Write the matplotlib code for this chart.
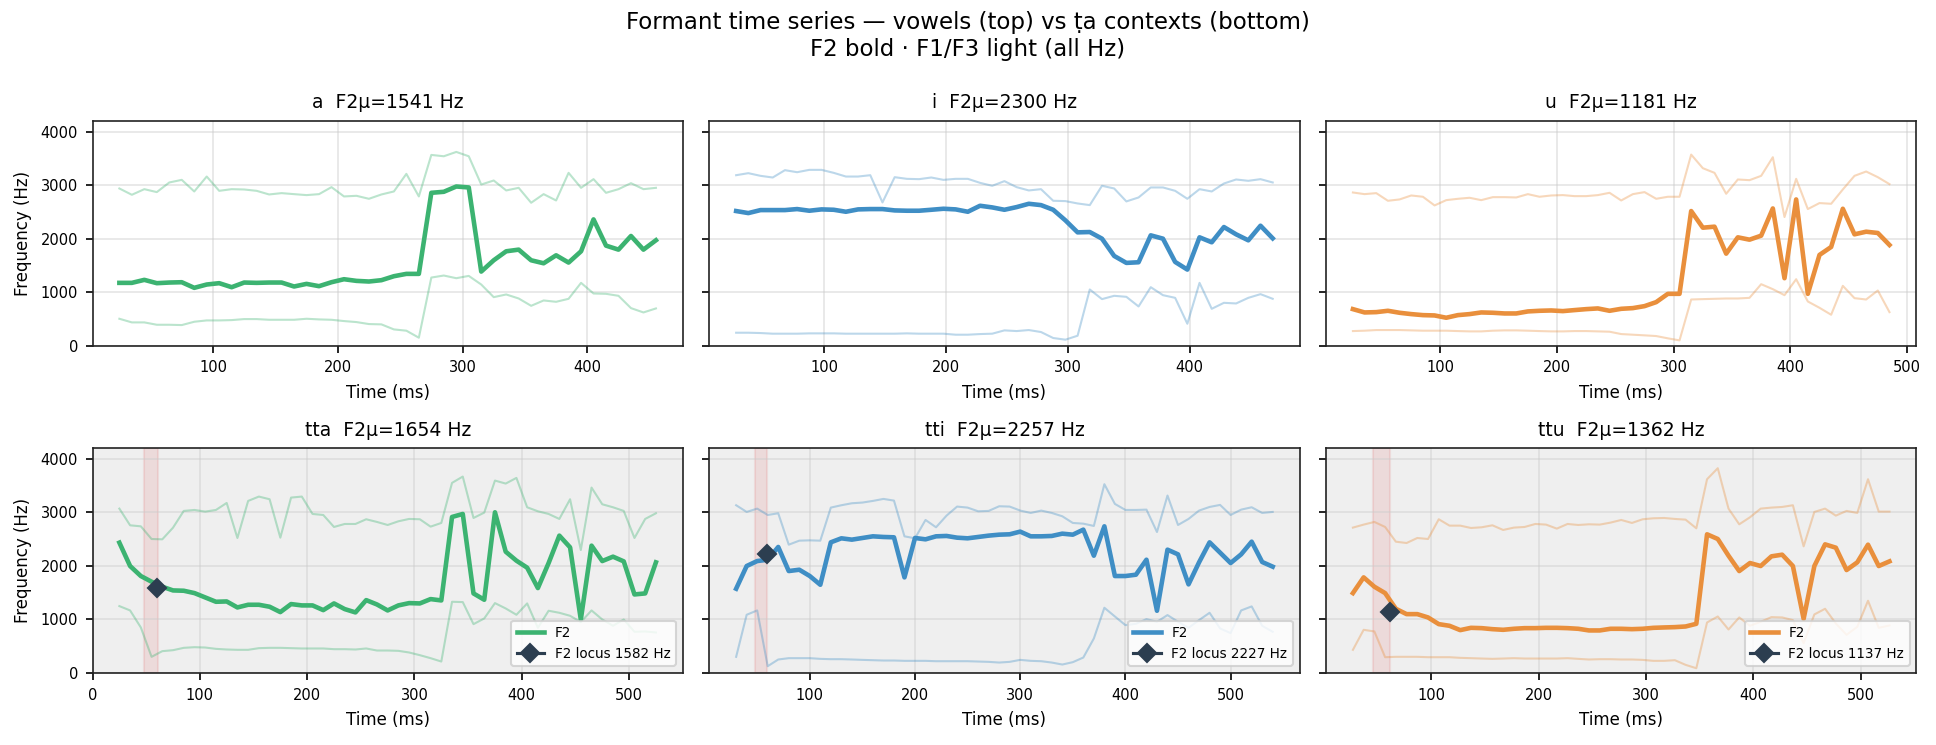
import numpy as np
import matplotlib
matplotlib.use('Agg')
import matplotlib.pyplot as plt

# formant tracks (Hz), one frame every 10 ms
STEP = 10

a_start = 25
a_f1 = [503, 435, 435, 391, 391, 385, 447, 472, 472, 478, 497, 497, 484, 484, 484, 503, 491, 484,
        460, 441, 404, 398, 304, 280, 149, 1273, 1311, 1261, 1304, 1143, 907, 957, 882, 745, 845,
        820, 876, 1174, 975, 969, 932, 702, 621, 696]
a_f2 = [1174, 1174, 1230, 1168, 1180, 1186, 1081, 1143, 1168, 1093, 1180, 1174, 1180, 1180, 1106,
        1155, 1112, 1186, 1242, 1211, 1199, 1224, 1298, 1342, 1342, 2857, 2876, 2975, 2957, 1385,
        1596, 1764, 1795, 1596, 1540, 1689, 1553, 1764, 2360, 1870, 1795, 2050, 1795, 1970]
a_f3 = [2938, 2820, 2925, 2870, 3050, 3099, 2882, 3161, 2894, 2925, 2919, 2894, 2826, 2851, 2832,
        2814, 2832, 2963, 2789, 2801, 2745, 2826, 2882, 3211, 2789, 3565, 3540, 3621, 3540, 3012,
        3087, 2901, 2950, 2671, 2832, 2714, 3230, 2950, 3112, 2857, 2925, 3037, 2925, 2950]

i_start = 28
i_f1 = [242, 242, 236, 224, 224, 224, 230, 230, 230, 224, 224, 224, 224, 224, 230, 224, 224, 224,
        205, 205, 217, 224, 286, 273, 292, 255, 143, 112, 186, 1050, 870, 932, 913, 733, 1093, 944,
        894, 410, 1174, 689, 801, 789, 894, 963, 876]
i_f2 = [2516, 2478, 2534, 2534, 2534, 2553, 2522, 2547, 2540, 2503, 2547, 2553, 2553, 2528, 2522,
        2522, 2540, 2559, 2547, 2503, 2615, 2584, 2540, 2590, 2652, 2627, 2540, 2342, 2118, 2124,
        2000, 1677, 1547, 1559, 2062, 2000, 1565, 1422, 2025, 1932, 2217, 2081, 1969, 2242, 2006]
i_f3 = [3186, 3224, 3174, 3143, 3280, 3242, 3286, 3286, 3230, 3161, 3161, 3186, 2677, 3149, 3118,
        3112, 3143, 3099, 3118, 3118, 3043, 2988, 3075, 2963, 2901, 2925, 2708, 2702, 2658, 2627,
        2988, 2938, 2696, 2770, 2957, 2957, 2894, 2745, 2925, 2882, 3031, 3106, 3081, 3112, 3050]

u_start = 25
u_f1 = [273, 280, 292, 292, 292, 286, 280, 280, 280, 273, 267, 267, 280, 286, 286, 280, 273, 267,
        267, 273, 273, 267, 261, 217, 205, 193, 180, 137, 99, 863, 870, 876, 882, 882, 894, 1149,
        1056, 944, 1242, 826, 708, 578, 1118, 888, 863, 1031, 627]
u_f2 = [683, 621, 627, 652, 615, 590, 571, 565, 522, 571, 590, 621, 615, 602, 602, 640, 652, 658,
        646, 665, 683, 696, 652, 689, 702, 739, 814, 969, 969, 2516, 2205, 2224, 1720, 2025, 1981,
        2056, 2565, 1261, 2733, 969, 1696, 1845, 2559, 2081, 2130, 2106, 1882]
u_f3 = [2863, 2832, 2851, 2708, 2733, 2807, 2783, 2621, 2720, 2745, 2764, 2720, 2776, 2776, 2770,
        2832, 2783, 2807, 2814, 2795, 2795, 2814, 2857, 2714, 2832, 2870, 2745, 2783, 2783, 3571,
        3317, 3230, 2839, 3106, 3093, 3174, 3522, 2404, 3118, 2553, 2665, 2652, 2919, 3174, 3255,
        3149, 3019]

tta_start = 25
tta_f1 = [1248, 1167, 849, 300, 406, 424, 468, 480, 474, 449, 437, 431, 431, 462, 468, 468, 462,
          456, 456, 456, 443, 443, 437, 456, 418, 418, 412, 381, 331, 275, 212, 1329, 1323, 911,
          1017, 1304, 1204, 1086, 1298, 842, 1161, 1123, 1067, 949, 1167, 998, 880, 998, 768, 774,
          755]
tta_f2 = [2434, 1997, 1810, 1704, 1610, 1541, 1535, 1491, 1410, 1329, 1335, 1223, 1273, 1273,
          1236, 1136, 1286, 1261, 1261, 1173, 1298, 1192, 1130, 1360, 1279, 1167, 1261, 1304,
          1298, 1379, 1354, 2914, 2970, 1485, 1367, 3001, 2265, 2097, 1966, 1585, 2053, 2565,
          2346, 998, 2378, 2090, 2172, 2084, 1466, 1485, 2066]
tta_f3 = [3070, 2758, 2739, 2502, 2496, 2714, 3027, 3045, 3014, 3045, 3176, 2521, 3214, 3295,
          3245, 2527, 3276, 3295, 2970, 2951, 2727, 2783, 2783, 2871, 2821, 2764, 2833, 2877,
          2871, 2733, 2802, 3551, 3669, 2895, 2995, 3594, 3538, 3644, 3095, 3020, 2970, 2877,
          3245, 2296, 3463, 3151, 3095, 3027, 2521, 2877, 2983]

tti_start = 30
tti_f1 = [300, 1086, 1167, 125, 250, 275, 275, 275, 262, 256, 256, 250, 243, 237, 231, 231, 225,
          225, 225, 218, 218, 218, 218, 212, 206, 193, 206, 243, 225, 218, 193, 156, 200, 287, 643,
          1217, 1054, 892, 917, 1005, 955, 1080, 955, 842, 986, 1123, 830, 743, 1167, 1242, 880,
          768]
tti_f2 = [1573, 1997, 2090, 2115, 2353, 1903, 1928, 1810, 1647, 2440, 2515, 2490, 2521, 2552,
          2540, 2534, 1785, 2521, 2496, 2552, 2559, 2527, 2515, 2540, 2565, 2583, 2590, 2640,
          2552, 2552, 2559, 2602, 2583, 2677, 2190, 2739, 1810, 1810, 1835, 2115, 1161, 2303,
          2215, 1654, 2066, 2440, 2247, 2053, 2215, 2452, 2072, 1985]
tti_f3 = [3133, 3008, 3070, 2951, 2983, 2396, 2471, 2477, 2471, 3089, 3133, 3170, 3183, 3214,
          3251, 3220, 2552, 2515, 2858, 2721, 2939, 3108, 3089, 3020, 3027, 3114, 3108, 3033,
          2989, 3033, 2989, 2927, 2802, 2789, 2746, 3526, 3158, 3045, 3045, 3051, 2633, 3314,
          2764, 2877, 3033, 3101, 3139, 2951, 3051, 3095, 2989, 3008]

ttu_start = 27
ttu_f1 = [431, 805, 774, 293, 300, 300, 300, 293, 293, 293, 281, 275, 268, 262, 268, 275, 268,
          268, 268, 268, 275, 262, 250, 256, 256, 250, 250, 243, 225, 225, 237, 150, 87, 942, 1054,
          811, 1036, 880, 955, 1042, 1036, 986, 555, 1092, 1198, 924, 711, 861, 1348, 842, 886]
ttu_f2 = [1491, 1785, 1610, 1491, 1198, 1098, 1098, 1036, 911, 880, 799, 842, 836, 817, 805,
          824, 836, 836, 842, 842, 836, 824, 793, 793, 824, 824, 817, 824, 842, 849, 855, 867,
          917, 2590, 2502, 2190, 1903, 2053, 1997, 2178, 2209, 1997, 1011, 1997, 2402, 2340, 1922,
          2066, 2396, 1997, 2084]
ttu_f3 = [2715, 2771, 2821, 2727, 2452, 2427, 2521, 2502, 2871, 2752, 2752, 2708, 2721, 2758,
          2671, 2715, 2727, 2783, 2771, 2696, 2783, 2764, 2777, 2771, 2808, 2858, 2802, 2871,
          2889, 2895, 2877, 2864, 2702, 3619, 3825, 3070, 2777, 2908, 3070, 3089, 3101, 3133,
          2365, 3008, 3070, 2939, 3027, 2989, 3619, 3014, 3014]

# F2 means shown in the panel titles
f2_means = {'a': 1541, 'i': 2300, 'u': 1181, 'tta': 1654, 'tti': 2257, 'ttu': 1362}
# burst window (ms) and F2 locus (ms, Hz) for the tt contexts
burst_win = {'tta': (48, 61), 'tti': (48, 59), 'ttu': (46, 62)}
locus = {'tta': (60, 1582), 'tti': (59, 2227), 'ttu': (62, 1137)}

colors = {'a': '#3cb371', 'i': '#3f8ec5', 'u': '#e98f3c'}


def plot_tracks(ax, name, start, f1, f2, f3, color):
    t = np.arange(len(f2)) * STEP + start
    ax.plot(t, f1, color=color, lw=1.0, alpha=0.35)
    ax.plot(t, f3, color=color, lw=1.0, alpha=0.35)
    ax.plot(t, f2, color=color, lw=2.2, label='F2')
    ax.set_title(f'{name}  F2\u03bc={f2_means[name]} Hz', fontsize=9)
    ax.set_xlabel('Time (ms)', fontsize=8)
    ax.grid(True, color='#cccccc', alpha=0.5, lw=0.8)
    ax.tick_params(labelsize=7)
    for s in ax.spines.values():
        s.set_color('#222222')


def plot_context(ax, name, color):
    ax.set_facecolor('#efefef')
    lo, hi = burst_win[name]
    ax.axvspan(lo, hi, color='#e06666', alpha=0.15)
    lt, lf = locus[name]
    ax.plot([lt], [lf], marker='D', color='#2c3e50', ms=6,
            label=f'F2 locus {lf} Hz')
    ax.legend(loc='lower right', fontsize=6.5)


fig, axes = plt.subplots(2, 3, sharey=True, figsize=(12.907, 4.967), dpi=150)

plot_tracks(axes[0, 0], 'a', a_start, a_f1, a_f2, a_f3, colors['a'])
plot_tracks(axes[0, 1], 'i', i_start, i_f1, i_f2, i_f3, colors['i'])
plot_tracks(axes[0, 2], 'u', u_start, u_f1, u_f2, u_f3, colors['u'])
plot_tracks(axes[1, 0], 'tta', tta_start, tta_f1, tta_f2, tta_f3, colors['a'])
plot_tracks(axes[1, 1], 'tti', tti_start, tti_f1, tti_f2, tti_f3, colors['i'])
plot_tracks(axes[1, 2], 'ttu', ttu_start, ttu_f1, ttu_f2, ttu_f3, colors['u'])
plot_context(axes[1, 0], 'tta', colors['a'])
plot_context(axes[1, 1], 'tti', colors['i'])
plot_context(axes[1, 2], 'ttu', colors['u'])

axes[0, 0].set_ylim(0, 4200)
axes[0, 0].set_yticks([0, 1000, 2000, 3000, 4000])
axes[0, 0].set_ylabel('Frequency (Hz)', fontsize=8)
axes[1, 0].set_ylabel('Frequency (Hz)', fontsize=8)

fig.suptitle('Formant time series \u2014 vowels (top) vs \u1e6da contexts (bottom)\n'
             'F2 bold \u00b7 F1/F3 light (all Hz)', fontsize=11, y=0.985)
fig.subplots_adjust(left=0.0478, right=0.9898, top=0.8376, bottom=0.0968,
                    wspace=0.045, hspace=0.456)
fig.savefig('out.png', dpi=150)
